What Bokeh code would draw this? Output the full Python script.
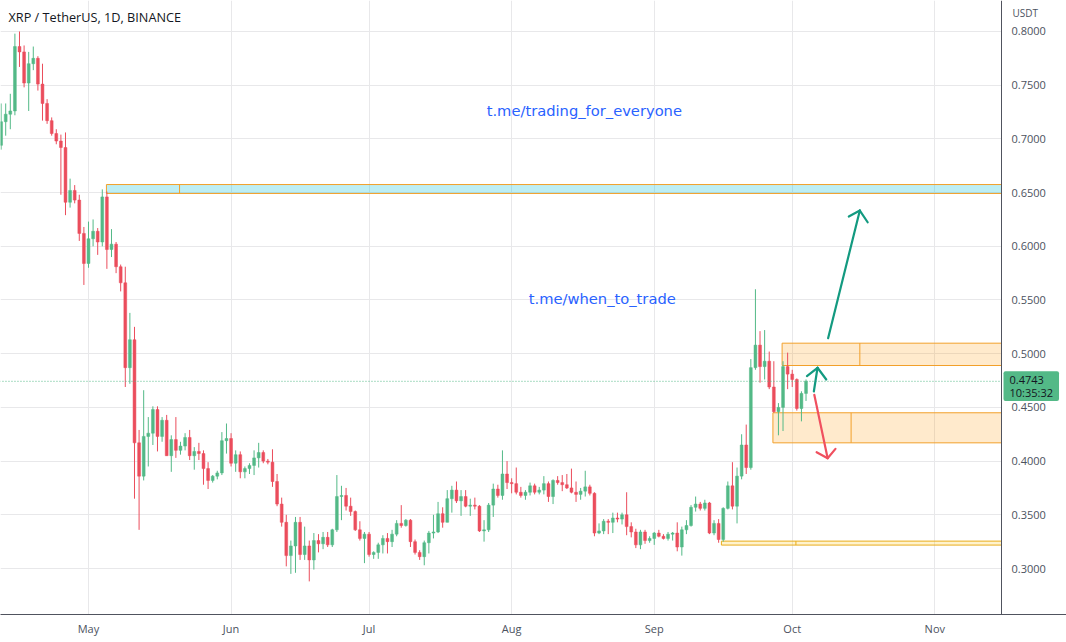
import pandas as pd
from bokeh.plotting import figure
from bokeh.models import (ColumnDataSource, Label, Range1d, MonthsTicker, LinearAxis,
                          DatetimeTickFormatter, SingleIntervalTicker, NumeralTickFormatter)
from bokeh.embed import file_html
from bokeh.resources import INLINE

# ---------------- data ----------------
START = "2022-04-12"   # first daily candle
opens = [0.694, 0.716, 0.723, 0.726, 0.786, 0.781, 0.752, 0.770, 0.775, 0.751,
         0.733, 0.717, 0.705, 0.698, 0.692, 0.641, 0.652, 0.643, 0.612, 0.584,
         0.607, 0.614, 0.604, 0.646, 0.597, 0.602, 0.581, 0.566, 0.487, 0.513,
         0.417, 0.386, 0.423, 0.426, 0.448, 0.423, 0.438, 0.405, 0.420, 0.410,
         0.414, 0.422, 0.405, 0.409, 0.407, 0.393, 0.382, 0.386, 0.389, 0.419,
         0.421, 0.398, 0.406, 0.390, 0.393, 0.396, 0.403, 0.408, 0.400, 0.399,
         0.381, 0.360, 0.343, 0.312, 0.321, 0.343, 0.313, 0.321, 0.308, 0.326,
         0.323, 0.329, 0.322, 0.336, 0.367, 0.368, 0.358, 0.353, 0.336, 0.328,
         0.332, 0.313, 0.315, 0.322, 0.328, 0.325, 0.332, 0.342, 0.340, 0.345,
         0.325, 0.315, 0.311, 0.324, 0.333, 0.334, 0.351, 0.343, 0.365, 0.373,
         0.363, 0.367, 0.358, 0.359, 0.358, 0.335, 0.336, 0.359, 0.374, 0.368,
         0.388, 0.380, 0.379, 0.371, 0.368, 0.371, 0.377, 0.371, 0.373, 0.379,
         0.367, 0.382, 0.380, 0.378, 0.375, 0.371, 0.369, 0.372, 0.376, 0.370,
         0.333, 0.335, 0.344, 0.343, 0.347, 0.346, 0.350, 0.339, 0.334, 0.322,
         0.334, 0.326, 0.328, 0.333, 0.330, 0.328, 0.332, 0.333, 0.320, 0.336,
         0.340, 0.357, 0.360, 0.356, 0.361, 0.333, 0.342, 0.327, 0.356, 0.377,
         0.358, 0.386, 0.415, 0.394, 0.487, 0.508, 0.488, 0.493, 0.469, 0.446,
         0.450, 0.488, 0.481, 0.476, 0.449, 0.463]
highs = [0.733, 0.733, 0.742, 0.798, 0.800, 0.787, 0.781, 0.786, 0.777, 0.770,
         0.737, 0.720, 0.709, 0.704, 0.706, 0.663, 0.657, 0.648, 0.618, 0.623,
         0.625, 0.617, 0.653, 0.651, 0.616, 0.604, 0.583, 0.581, 0.538, 0.525,
         0.429, 0.466, 0.441, 0.451, 0.451, 0.441, 0.443, 0.424, 0.441, 0.418,
         0.426, 0.429, 0.413, 0.417, 0.410, 0.399, 0.387, 0.391, 0.427, 0.435,
         0.426, 0.410, 0.409, 0.395, 0.398, 0.410, 0.417, 0.410, 0.402, 0.411,
         0.388, 0.366, 0.350, 0.326, 0.348, 0.348, 0.339, 0.326, 0.333, 0.332,
         0.334, 0.334, 0.337, 0.387, 0.377, 0.375, 0.366, 0.354, 0.344, 0.334,
         0.334, 0.316, 0.324, 0.331, 0.333, 0.336, 0.345, 0.359, 0.346, 0.346,
         0.327, 0.317, 0.326, 0.335, 0.350, 0.362, 0.357, 0.373, 0.377, 0.381,
         0.373, 0.373, 0.365, 0.366, 0.359, 0.345, 0.361, 0.379, 0.378, 0.410,
         0.400, 0.384, 0.394, 0.376, 0.373, 0.380, 0.379, 0.376, 0.386, 0.381,
         0.383, 0.386, 0.387, 0.388, 0.393, 0.381, 0.375, 0.391, 0.378, 0.371,
         0.342, 0.346, 0.346, 0.352, 0.352, 0.352, 0.371, 0.343, 0.337, 0.336,
         0.336, 0.330, 0.334, 0.336, 0.332, 0.334, 0.334, 0.343, 0.339, 0.345,
         0.359, 0.367, 0.362, 0.364, 0.362, 0.345, 0.346, 0.357, 0.381, 0.399,
         0.394, 0.425, 0.434, 0.495, 0.560, 0.521, 0.522, 0.502, 0.493, 0.454,
         0.493, 0.501, 0.485, 0.477, 0.465, 0.476]
lows = [0.690, 0.703, 0.709, 0.722, 0.767, 0.748, 0.726, 0.764, 0.745, 0.717,
        0.714, 0.703, 0.695, 0.648, 0.629, 0.636, 0.640, 0.605, 0.564, 0.580,
        0.600, 0.592, 0.600, 0.579, 0.590, 0.575, 0.558, 0.469, 0.472, 0.365,
        0.336, 0.382, 0.395, 0.415, 0.409, 0.418, 0.405, 0.390, 0.403, 0.406,
        0.410, 0.401, 0.392, 0.401, 0.378, 0.374, 0.380, 0.383, 0.387, 0.407,
        0.395, 0.390, 0.384, 0.384, 0.388, 0.387, 0.394, 0.398, 0.397, 0.376,
        0.358, 0.339, 0.302, 0.295, 0.296, 0.308, 0.308, 0.288, 0.299, 0.315,
        0.318, 0.320, 0.320, 0.334, 0.345, 0.354, 0.349, 0.335, 0.326, 0.305,
        0.311, 0.309, 0.309, 0.314, 0.314, 0.320, 0.330, 0.338, 0.339, 0.320,
        0.313, 0.308, 0.303, 0.314, 0.328, 0.333, 0.338, 0.343, 0.352, 0.361,
        0.349, 0.357, 0.349, 0.355, 0.334, 0.325, 0.334, 0.348, 0.366, 0.364,
        0.374, 0.370, 0.369, 0.366, 0.364, 0.368, 0.369, 0.369, 0.369, 0.362,
        0.360, 0.378, 0.372, 0.374, 0.370, 0.362, 0.364, 0.367, 0.368, 0.330,
        0.332, 0.332, 0.332, 0.333, 0.343, 0.341, 0.331, 0.329, 0.319, 0.318,
        0.323, 0.324, 0.322, 0.329, 0.327, 0.326, 0.326, 0.316, 0.312, 0.332,
        0.339, 0.353, 0.354, 0.354, 0.332, 0.331, 0.324, 0.325, 0.355, 0.355,
        0.342, 0.383, 0.388, 0.392, 0.485, 0.473, 0.476, 0.467, 0.445, 0.424,
        0.428, 0.467, 0.469, 0.447, 0.437, 0.456]
closes = [0.716, 0.723, 0.726, 0.786, 0.781, 0.752, 0.770, 0.775, 0.751, 0.733,
          0.717, 0.705, 0.698, 0.692, 0.641, 0.652, 0.643, 0.612, 0.584, 0.607,
          0.614, 0.604, 0.646, 0.597, 0.602, 0.581, 0.566, 0.487, 0.513, 0.417,
          0.386, 0.423, 0.426, 0.448, 0.423, 0.438, 0.405, 0.420, 0.410, 0.414,
          0.422, 0.405, 0.409, 0.407, 0.393, 0.382, 0.386, 0.389, 0.419, 0.421,
          0.398, 0.406, 0.390, 0.393, 0.396, 0.403, 0.408, 0.400, 0.399, 0.381,
          0.360, 0.343, 0.312, 0.321, 0.343, 0.313, 0.321, 0.308, 0.326, 0.323,
          0.329, 0.322, 0.336, 0.367, 0.368, 0.358, 0.353, 0.336, 0.328, 0.332,
          0.313, 0.315, 0.322, 0.328, 0.325, 0.332, 0.342, 0.340, 0.345, 0.325,
          0.315, 0.311, 0.324, 0.333, 0.334, 0.351, 0.343, 0.365, 0.373, 0.363,
          0.367, 0.358, 0.359, 0.358, 0.335, 0.336, 0.359, 0.374, 0.368, 0.388,
          0.380, 0.379, 0.371, 0.368, 0.371, 0.377, 0.371, 0.373, 0.379, 0.367,
          0.382, 0.380, 0.378, 0.375, 0.371, 0.369, 0.372, 0.376, 0.370, 0.333,
          0.335, 0.344, 0.343, 0.347, 0.346, 0.350, 0.339, 0.334, 0.322, 0.334,
          0.326, 0.328, 0.333, 0.330, 0.328, 0.332, 0.333, 0.320, 0.336, 0.340,
          0.357, 0.360, 0.356, 0.361, 0.333, 0.342, 0.327, 0.356, 0.377, 0.358,
          0.386, 0.415, 0.394, 0.487, 0.508, 0.488, 0.493, 0.469, 0.446, 0.450,
          0.488, 0.481, 0.476, 0.449, 0.463, 0.4743]

title_text = "XRP / TetherUS, 1D, BINANCE"
currency = "USDT"
countdown = "10:35:32"
price_step = 0.05

# text notes (day offset from START, price)
note_texts = ["t.me/trading_for_everyone", "t.me/when_to_trade"]
note_day = [126.8, 130.7]
note_price = [0.7264, 0.5514]

# drawn rectangles (extended right)
zone_left = [22.9, 169.8, 167.8, 156.6]
zone_mid = [38.8, 186.7, 184.8, 172.8]
zone_top = [0.6575, 0.5098, 0.4450, 0.3255]
zone_bottom = [0.6492, 0.4890, 0.4170, 0.3218]
zone_fill = ["#00bcd4", "#ff9800", "#ff9800", "#ffc107"]
zone_alpha = [0.26, 0.2, 0.2, 0.2]
zone_line = ["#f2a02a", "#f2a02a", "#f2a02a", "#e9ad1c"]

# arrows: start, tip, head-left, head-right (day offset, price)
arrow_color = ["#139a80", "#139a80", "#f0505f"]
arrow_x0 = [179.8, 176.7, 176.8]
arrow_y0 = [0.5144, 0.4648, 0.4617]
arrow_x1 = [186.7, 177.5, 179.7]
arrow_y1 = [0.6333, 0.4869, 0.4027]
head_lx = [184.3, 175.2, 177.3]
head_ly = [0.6277, 0.4791, 0.4083]
head_rx = [188.4, 179.4, 181.4]
head_ry = [0.6224, 0.4760, 0.4114]

# ---------------- helpers ----------------
base = pd.Timestamp(START)
DAY_MS = 86400000.0


def ms(d):
    return base.value / 1e6 + d * DAY_MS


PANE_END = 217.5      # last visible day of the price pane (price scale sits here)
VIEW_END = 231.63     # right edge of the canvas
UP = "#53b987"
DOWN = "#eb4d5c"
last_price = closes[-1]

n = len(opens)
xs = [ms(i) for i in range(n)]
cols = [UP if c >= o else DOWN for o, c in zip(opens, closes)]
tops = [max(o, c) for o, c in zip(opens, closes)]
bots = [min(o, c) for o, c in zip(opens, closes)]
src = ColumnDataSource(dict(x=xs, high=highs, low=lows, top=tops, bottom=bots, color=cols))

p = figure(width=1066, height=642, x_axis_type="datetime", y_axis_location=None,
           output_backend="svg", toolbar_location=None,
           x_range=Range1d(ms(-0.13), ms(VIEW_END)), y_range=Range1d(0.25717, 0.82886),
           min_border_left=0, min_border_top=0, min_border_right=0, min_border_bottom=28)
p.outline_line_color = None
p.background_fill_color = "white"
p.border_fill_color = "white"

# grid
p.xgrid.ticker = MonthsTicker(months=list(range(1, 13)))
p.ygrid.ticker = SingleIntervalTicker(interval=price_step)
p.xgrid.grid_line_color = "#e8e8ea"
p.ygrid.grid_line_color = "#e8e8ea"

# axes
yax = LinearAxis(fixed_location=ms(PANE_END),
                 ticker=SingleIntervalTicker(interval=price_step),
                 formatter=NumeralTickFormatter(format="0.0000"))
p.add_layout(yax, "right")
p.xaxis.ticker = MonthsTicker(months=list(range(1, 13)))
p.xaxis.formatter = DatetimeTickFormatter(months="%b", days="%b", years="%Y")
for ax in (p.xaxis[0], yax):
    ax.major_tick_line_color = None
    ax.minor_tick_line_color = None
    ax.major_tick_out = 0
    ax.major_tick_in = 0
    ax.minor_tick_out = 0
    ax.minor_tick_in = 0
    ax.axis_line_color = "#50535e"
    ax.major_label_text_font = "Open Sans"
    ax.major_label_text_font_size = "11px"
    ax.major_label_text_color = "#4c525e"
p.xaxis.major_label_standoff = 6
yax.major_label_standoff = 10

# zones
for i in range(len(zone_left)):
    p.quad(left=ms(zone_left[i]), right=ms(VIEW_END + 5), top=zone_top[i], bottom=zone_bottom[i],
           fill_color=zone_fill[i], fill_alpha=zone_alpha[i], line_color=zone_line[i], line_width=1)
    p.segment(x0=ms(zone_mid[i]), y0=zone_bottom[i], x1=ms(zone_mid[i]), y1=zone_top[i],
              line_color=zone_line[i], line_width=1)

# candles
p.segment(x0="x", y0="low", x1="x", y1="high", line_color="color", line_width=1, source=src)
p.vbar(x="x", width=0.62 * DAY_MS, top="top", bottom="bottom", fill_color="color",
       line_color="color", line_width=0.5, source=src)

# last price line
p.segment(x0=ms(-1), y0=last_price, x1=ms(PANE_END), y1=last_price, line_color=UP,
          line_dash="1 2", line_width=1)

# arrows
for i in range(len(arrow_x0)):
    for (ax_, ay_) in ((arrow_x0[i], arrow_y0[i]), (head_lx[i], head_ly[i]), (head_rx[i], head_ry[i])):
        p.segment(x0=ms(ax_), y0=ay_, x1=ms(arrow_x1[i]), y1=arrow_y1[i],
                  line_color=arrow_color[i], line_width=2.2, line_cap="round")

# price-scale background (hides grid / zones behind the price scale)
p.quad(left=ms(PANE_END), right=ms(VIEW_END + 5), top=2, bottom=0,
       fill_color="white", line_color=None)

# notes
for t, d, pr in zip(note_texts, note_day, note_price):
    p.add_layout(Label(x=ms(d), y=pr, text=t, text_align="center", text_baseline="middle",
                       text_font="DejaVu Sans", text_font_size="14.7px", text_color="#2962ff"))

# title
p.add_layout(Label(x=8, y=614 - 16, x_units="screen", y_units="screen", text=title_text,
                   text_baseline="middle", text_font="Open Sans", text_font_size="12.7px",
                   text_color="#131722"))
# currency on the price scale
p.add_layout(Label(x=1012, y=614 - 12, x_units="screen", y_units="screen", text=currency,
                   text_baseline="middle", text_font="Open Sans", text_font_size="10px",
                   text_color="#4c525e"))
# last price tag
p.add_layout(Label(x=1003, y=614 - 385.5, x_units="screen", y_units="screen",
                   text=f"{last_price:.4f}\n{countdown}", text_baseline="middle",
                   text_font="Open Sans", text_font_size="11px", text_color="#131722",
                   text_line_height=0.85,
                   background_fill_color=UP, border_radius=2, padding=[6, 1]))

open("out.html", "w").write(file_html(p, INLINE))
